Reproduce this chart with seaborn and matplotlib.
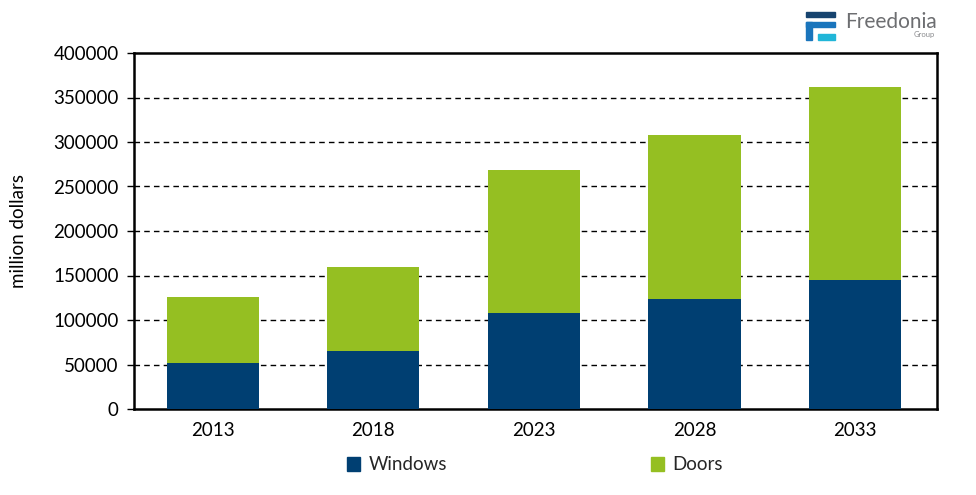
import matplotlib
matplotlib.use("Agg")
import matplotlib.pyplot as plt
import matplotlib.patches as mpatches
import seaborn as sns
import pandas as pd

years = ["2013", "2018", "2023", "2028", "2033"]
windows = [52000, 65000, 108000, 124000, 145000]
doors = [74000, 94000, 161000, 184000, 217000]
series_names = ["Windows", "Doors"]
colors = ["#003F72", "#95BF22"]
y_ticks = [0, 50000, 100000, 150000, 200000, 250000, 300000, 350000, 400000]

sns.set_theme(style="white")
plt.rcParams['font.family'] = ['Lato', 'DejaVu Sans']

totals = [w + d for w, d in zip(windows, doors)]
df_tot = pd.DataFrame({"year": years, "value": totals})
df_win = pd.DataFrame({"year": years, "value": windows})

fig = plt.figure(figsize=(9.76, 4.95), dpi=100)
ax = fig.add_axes([134/976, 1-409/495, (937-134)/976, (409-53)/495])

sns.barplot(data=df_tot, x="year", y="value", color=colors[1], width=0.575,
            saturation=1, ax=ax, zorder=3, linewidth=0, edgecolor="none")
sns.barplot(data=df_win, x="year", y="value", color=colors[0], width=0.575,
            saturation=1, ax=ax, zorder=3, linewidth=0, edgecolor="none")

FS = 13.5
ax.set_ylim(0, 400000)
ax.set_xlim(-0.49, 4.51)
ax.set_yticks(y_ticks)
ax.set_yticklabels([str(v) for v in y_ticks], fontsize=FS, color="#000000")
ax.set_xticks(range(len(years)))
ax.set_xticklabels(years, fontsize=FS, color="#000000")
ax.set_xlabel("")
ax.set_ylabel("million dollars", fontsize=FS, color="#000000")
ax.yaxis.set_label_coords(-0.133, 0.5)

for v in y_ticks[1:-1]:
    ax.axhline(v, color="black", linestyle=(0, (4, 3)), linewidth=1.0, zorder=1)

for s in ax.spines.values():
    s.set_visible(True)
    s.set_color("black")
    s.set_linewidth(1.8)

ax.tick_params(axis="y", which="major", direction="out", length=5, width=1, color="black", pad=6, left=True)
ax.tick_params(axis="x", which="major", length=0, pad=9)
ax.grid(False)

handles = [mpatches.Patch(color=colors[0], label=series_names[0]),
           mpatches.Patch(color=colors[1], label=series_names[1])]
fig.legend(handles=handles, loc="center", bbox_to_anchor=(535/976, 1-465/495), ncol=2,
           frameon=False, fontsize=FS, columnspacing=10.9, handlelength=0.7,
           handleheight=0.7, handletextpad=0.45)

# Logo
W, H = 976, 495
def rect(x0, y0, x1, y1, c):
    fig.patches.append(mpatches.Rectangle((x0/W, 1-y1/H), (x1-x0)/W, (y1-y0)/H,
                                          transform=fig.transFigure, color=c, zorder=5))
rect(806, 12, 835, 17, "#17446F")
rect(806, 22, 835, 27, "#1A75BC")
rect(806, 22, 812, 40, "#1A75BC")
rect(818, 34, 835, 40, "#21B6D8")
fig.text(845/W, 1-22/H, "Freedonia", fontsize=15, color="#6D6E71", va="center", ha="left")
fig.text(935/W, 1-34/H, "Group", fontsize=5.5, color="#8A8B8E", va="center", ha="right")

fig.savefig("out.png", dpi=100)
